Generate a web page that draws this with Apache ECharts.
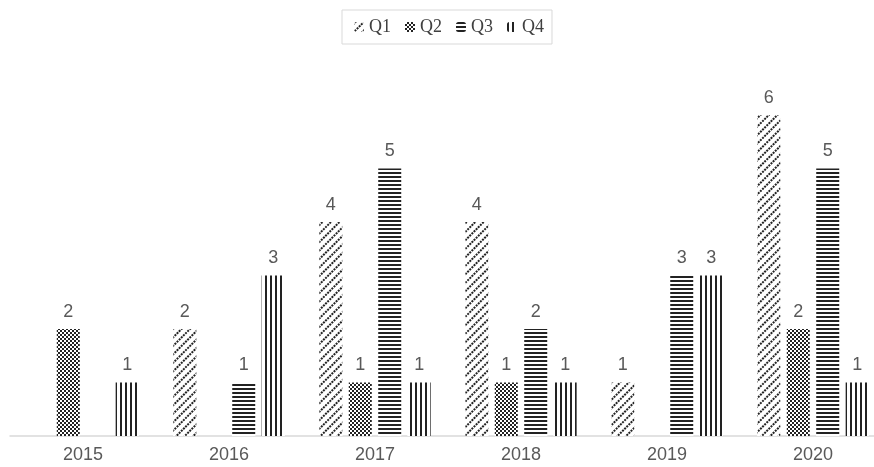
<!DOCTYPE html>
<html>
<head>
<meta charset="utf-8">
<script src="https://cdn.jsdelivr.net/npm/echarts@6/dist/echarts.min.js"></script>
<style>html,body{margin:0;padding:0;background:#fff}#c{width:874px;height:467px}</style>
</head>
<body>
<div id="c"></div>
<script>
var categories = ['2015', '2016', '2017', '2018', '2019', '2020'];
var seriesNames = ['Q1', 'Q2', 'Q3', 'Q4'];
var q1 = [null, 2, 4, 4, 1, 6];
var q2 = [2, null, 1, 1, null, 2];
var q3 = [null, 1, 5, 2, 3, 5];
var q4 = [1, 3, 1, 1, 3, 1];

var decals = [
  { symbol: 'rect', symbolSize: 1, color: '#222', backgroundColor: '#fff',
    dashArrayX: [2, 1], dashArrayY: [1.8, 3.2], rotation: -Math.PI / 4 },
  { symbol: 'rect', symbolSize: 1, color: '#222', backgroundColor: '#fff',
    dashArrayX: [[1.5, 1.5], [0, 1.5, 1.5, 0]], dashArrayY: [1.5, 0] },
  { symbol: 'rect', symbolSize: 1, color: '#222', backgroundColor: '#fff',
    dashArrayX: [1, 0], dashArrayY: [1.5, 1.5] },
  { symbol: 'rect', symbolSize: 1, color: '#222', backgroundColor: '#fff',
    dashArrayX: [1.5, 2.5], dashArrayY: [1, 0] }
];
var data = [q1, q2, q3, q4];

var chart = echarts.init(document.getElementById('c'));
chart.setOption({
  animation: false,
  backgroundColor: '#fff',
  legend: {
    top: 10,
    left: 342,
    data: seriesNames,
    itemWidth: 10,
    itemHeight: 10,
    itemGap: 14,
    padding: [8, 8, 8, 12],
    borderColor: '#d9d9d9',
    borderWidth: 1,
    textStyle: { fontFamily: 'Liberation Serif', fontSize: 18, color: '#404040' }
  },
  grid: { left: 10, width: 876, top: 115, bottom: 31, containLabel: false, outerBoundsMode: 'none' },
  xAxis: {
    type: 'category',
    data: categories,
    axisTick: { show: false },
    axisLine: { lineStyle: { color: '#d9d9d9', width: 1.5 } },
    axisLabel: { color: '#595959', fontFamily: 'Liberation Sans', fontSize: 18, margin: 10 }
  },
  yAxis: { type: 'value', min: 0, max: 6, show: false, splitLine: { show: false } },
  series: seriesNames.map(function (n, i) {
    return {
      name: n,
      type: 'bar',
      data: data[i],
      barWidth: 23,
      barGap: '28%',
      itemStyle: { color: '#fff', decal: decals[i] },
      label: {
        show: true, position: 'top', distance: 8,
        color: '#595959', fontFamily: 'Liberation Sans', fontSize: 18
      }
    };
  })
});
</script>
</body>
</html>
